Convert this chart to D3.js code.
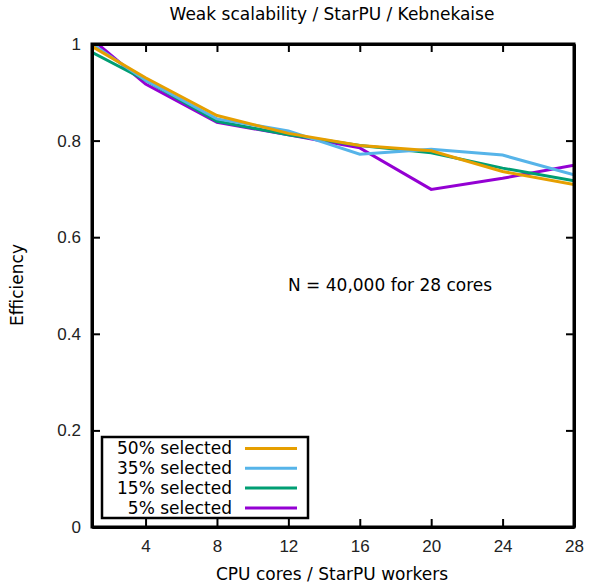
<!DOCTYPE html>
<html>
<head>
<meta charset="utf-8">
<script src="https://cdn.jsdelivr.net/npm/d3@7"></script>
<style>
  body { margin: 0; background: #fff; }
  svg { font-family: "DejaVu Sans", sans-serif; }
</style>
</head>
<body>
<div id="chart"></div>
<script>
const cores = [1, 4, 8, 12, 16, 20, 24, 28];
const sel50 = [0.995, 0.930, 0.852, 0.815, 0.790, 0.779, 0.736, 0.709];
const sel35 = [1.000, 0.925, 0.845, 0.820, 0.772, 0.782, 0.770, 0.729];
const sel15 = [0.983, 0.925, 0.840, 0.812, 0.790, 0.775, 0.743, 0.717];
const sel5  = [1.010, 0.917, 0.838, 0.812, 0.785, 0.699, 0.722, 0.749];
const xTicks = [4, 8, 12, 16, 20, 24, 28];
const yTicks = [0, 0.2, 0.4, 0.6, 0.8, 1];
const seriesNames = ['50% selected', '35% selected', '15% selected', '5% selected'];
const seriesColors = ['#e69f00', '#56b4e9', '#009e73', '#9400d3'];

const width = 589, height = 584;
const margin = { left: 92, right: 15, top: 44, bottom: 57 };
const fontSize = '17px';

const svg = d3.select('#chart')
  .append('svg')
  .attr('width', width)
  .attr('height', height);

const x = d3.scaleLinear().domain([1, 28]).range([margin.left, width - margin.right]);
const y = d3.scaleLinear().domain([0, 1]).range([height - margin.bottom, margin.top]);

svg.append('clipPath').attr('id', 'clip')
  .append('rect')
  .attr('x', x(1)).attr('y', y(1))
  .attr('width', x(28) - x(1)).attr('height', y(0) - y(1));

const series = [sel50, sel35, sel15, sel5].map((vals, i) => ({
  name: seriesNames[i],
  color: seriesColors[i],
  points: cores.map((c, j) => ({ c, v: vals[j] }))
}));

const line = d3.line().x(d => x(d.c)).y(d => y(d.v));

// draw last series first so 50% ends on top
svg.append('g').attr('clip-path', 'url(#clip)')
  .selectAll('path')
  .data(series.slice().reverse())
  .enter()
  .append('path')
  .attr('d', d => line(d.points))
  .attr('fill', 'none')
  .attr('stroke', d => d.color)
  .attr('stroke-width', 3);

// axes, ticks inward and mirrored like gnuplot
const tickLen = 8;
const axisG = svg.append('g');

axisG.append('g')
  .attr('transform', `translate(0,${y(0)})`)
  .call(d3.axisBottom(x).tickValues(xTicks).tickSizeInner(-tickLen).tickSizeOuter(0).tickPadding(13));
axisG.append('g')
  .attr('transform', `translate(0,${y(1)})`)
  .call(d3.axisTop(x).tickValues(xTicks).tickSizeInner(-tickLen).tickSizeOuter(0).tickFormat(''));
axisG.append('g')
  .attr('transform', `translate(${x(1)},0)`)
  .call(d3.axisLeft(y).tickValues(yTicks).tickSizeInner(-tickLen).tickSizeOuter(0).tickPadding(11)
    .tickFormat(d => d === 0 || d === 1 ? d : d3.format('.1f')(d)));
axisG.append('g')
  .attr('transform', `translate(${x(28)},0)`)
  .call(d3.axisRight(y).tickValues(yTicks).tickSizeInner(-tickLen).tickSizeOuter(0).tickFormat(''));

axisG.selectAll('.domain').attr('stroke', '#000').attr('stroke-width', 3);
axisG.selectAll('.tick line').attr('stroke', '#000').attr('stroke-width', 2);
axisG.selectAll('.tick text').style('font-size', fontSize).attr('fill', '#222');

svg.append('rect')
  .attr('x', x(1)).attr('y', y(1))
  .attr('width', x(28) - x(1)).attr('height', y(0) - y(1))
  .attr('fill', 'none').attr('stroke', '#000').attr('stroke-width', 3);

// titles
svg.append('text')
  .attr('x', 332).attr('y', 20)
  .attr('text-anchor', 'middle')
  .style('font-size', fontSize)
  .text('Weak scalability / StarPU / Kebnekaise');

svg.append('text')
  .attr('x', 332).attr('y', 580)
  .attr('text-anchor', 'middle')
  .style('font-size', fontSize)
  .text('CPU cores / StarPU workers');

svg.append('text')
  .attr('transform', 'translate(23,285) rotate(-90)')
  .attr('text-anchor', 'middle')
  .style('font-size', fontSize)
  .text('Efficiency');

svg.append('text')
  .attr('x', 288).attr('y', 291)
  .style('font-size', fontSize)
  .text('N = 40,000 for 28 cores');

// legend
const legend = svg.append('g');
legend.append('rect')
  .attr('x', 102).attr('y', 437)
  .attr('width', 206).attr('height', 81)
  .attr('fill', '#fff').attr('stroke', '#000').attr('stroke-width', 2.5);

const items = legend.selectAll('.legend')
  .data(series)
  .enter()
  .append('g')
  .attr('class', 'legend')
  .attr('transform', (d, i) => `translate(0,${448.5 + i * 19.8})`);

items.append('text')
  .attr('x', 232).attr('y', 0)
  .attr('dy', '.35em')
  .attr('text-anchor', 'end')
  .style('font-size', fontSize)
  .text(d => d.name);

items.append('line')
  .attr('x1', 245).attr('x2', 297)
  .attr('stroke', d => d.color)
  .attr('stroke-width', 3);
</script>
</body>
</html>
